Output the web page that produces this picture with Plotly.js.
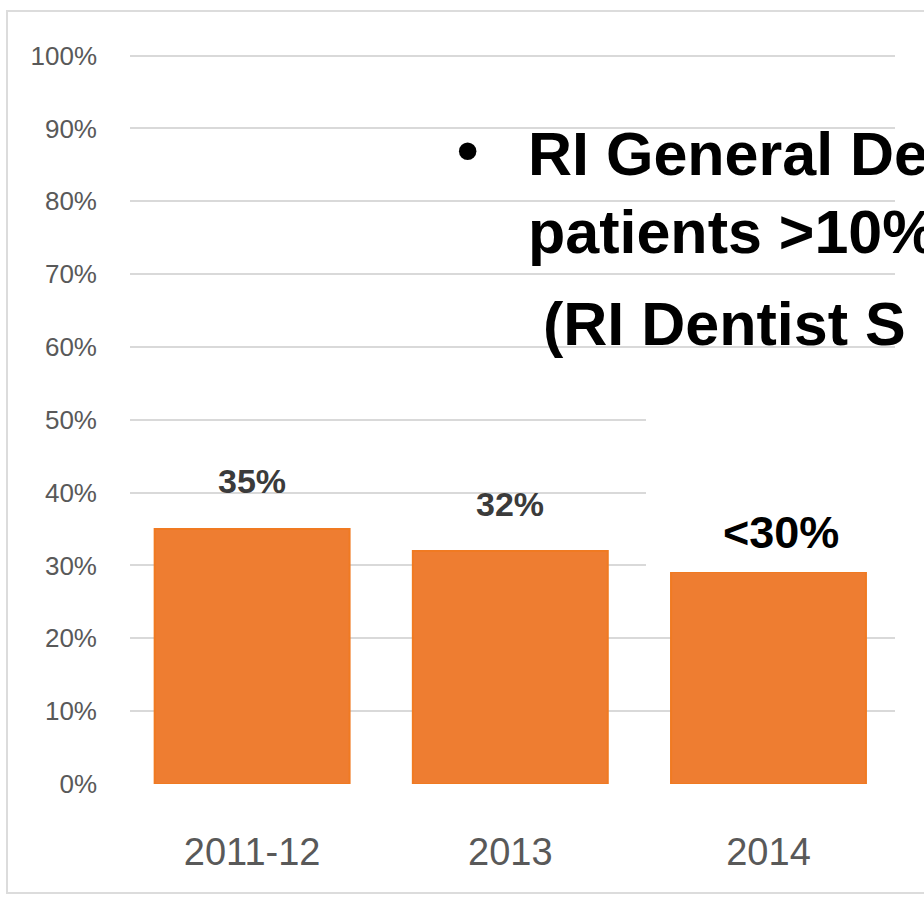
<!DOCTYPE html>
<html>
<head>
<meta charset="utf-8">
<script src="https://cdn.plot.ly/plotly-3.0.1.min.js"></script>
<style>
  html, body { margin: 0; padding: 0; background: #ffffff; }
  #chart { width: 924px; height: 899px; }
</style>
</head>
<body>
<div id="chart"></div>
<script>
// ---- data ----
const categories = ["2011-12", "2013", "2014"];
const values = [35, 32, 29.1];
const valueLabels = ["35%", "32%", "<30%"];
const yTickValues = [0, 10, 20, 30, 40, 50, 60, 70, 80, 90, 100];
const yTickLabels = ["0%", "10%", "20%", "30%", "40%", "50%", "60%", "70%", "80%", "90%", "100%"];
const overlayLines = ["RI General De", "patients >10%", "(RI Dentist S"];

// ---- layout helpers (pixel -> paper) ----
const L = 130, R = 895, T = 52, B = 784;
const px = x => (x - L) / (R - L);
const py = y => (B - y) / (B - T);

const sans = "Liberation Sans, Arial, sans-serif";

const trace = {
  type: "bar",
  x: categories,
  y: values,
  width: 0.755,
  marker: { color: "#EE7D31", line: { color: "#F07A22", width: 2 } },
  hoverinfo: "skip"
};

const labelFonts = [
  { family: sans, size: 34, color: "#3b3b3b", weight: 700 },
  { family: sans, size: 34, color: "#3b3b3b", weight: 700 },
  { family: sans, size: 45, color: "#000000", weight: 700 }
];
const labelShift = [48, 47, 40];
const labelXShift = [0, 0, 13];

const annotations = categories.map((c, i) => ({
  x: i, y: values[i], xref: "x", yref: "y",
  text: "<b>" + valueLabels[i].replace("<", "&lt;") + "</b>",
  showarrow: false, xanchor: "center", yanchor: "middle",
  yshift: labelShift[i], xshift: labelXShift[i],
  font: labelFonts[i]
}));

const overlayFont = { family: sans, size: 61, color: "#000000" };
annotations.push({
  x: px(467), y: py(150), xref: "paper", yref: "paper",
  text: "<b>•</b>", showarrow: false, xanchor: "center", yanchor: "middle",
  font: overlayFont
});
const overlayX = [526, 526, 541];
const overlayY = [154, 232, 324];
overlayLines.forEach((t, i) => {
  annotations.push({
    x: px(overlayX[i]), y: py(overlayY[i]), xref: "paper", yref: "paper",
    text: "<b>" + t.replace(">", "&gt;") + "</b>", showarrow: false,
    xanchor: "left", yanchor: "middle", font: overlayFont
  });
});

const layout = {
  width: 924, height: 899,
  margin: { l: L, r: 924 - R, t: T, b: 899 - B, pad: 0 },
  paper_bgcolor: "#ffffff",
  plot_bgcolor: "#ffffff",
  showlegend: false,
  xaxis: {
    type: "category",
    range: [-0.473, 2.49],
    showgrid: false, zeroline: false, showline: false,
    ticks: "",
    tickfont: { family: sans, size: 38, color: "#595959" },
    ticklabelstandoff: 42
  },
  yaxis: {
    range: [0, 100.5],
    tickmode: "array",
    tickvals: yTickValues,
    ticktext: yTickLabels,
    showgrid: true, gridcolor: "#d9d9d9", gridwidth: 2,
    zeroline: false, showline: false, ticks: "",
    tickfont: { family: sans, size: 26, color: "#595959" },
    ticklabelstandoff: 32
  },
  shapes: [
    {
      type: "rect", xref: "paper", yref: "paper", layer: "above",
      x0: px(646), x1: px(940), y0: py(572), y1: py(384),
      fillcolor: "#ffffff", line: { width: 0 }
    },
    {
      type: "rect", xref: "paper", yref: "paper", layer: "above",
      x0: px(7), x1: px(960), y0: py(893), y1: py(11),
      fillcolor: "rgba(0,0,0,0)", line: { color: "#dcdcdc", width: 2 }
    }
  ],
  annotations: annotations
};

Plotly.newPlot("chart", [trace], layout, { displayModeBar: false, staticPlot: true });
</script>
</body>
</html>
